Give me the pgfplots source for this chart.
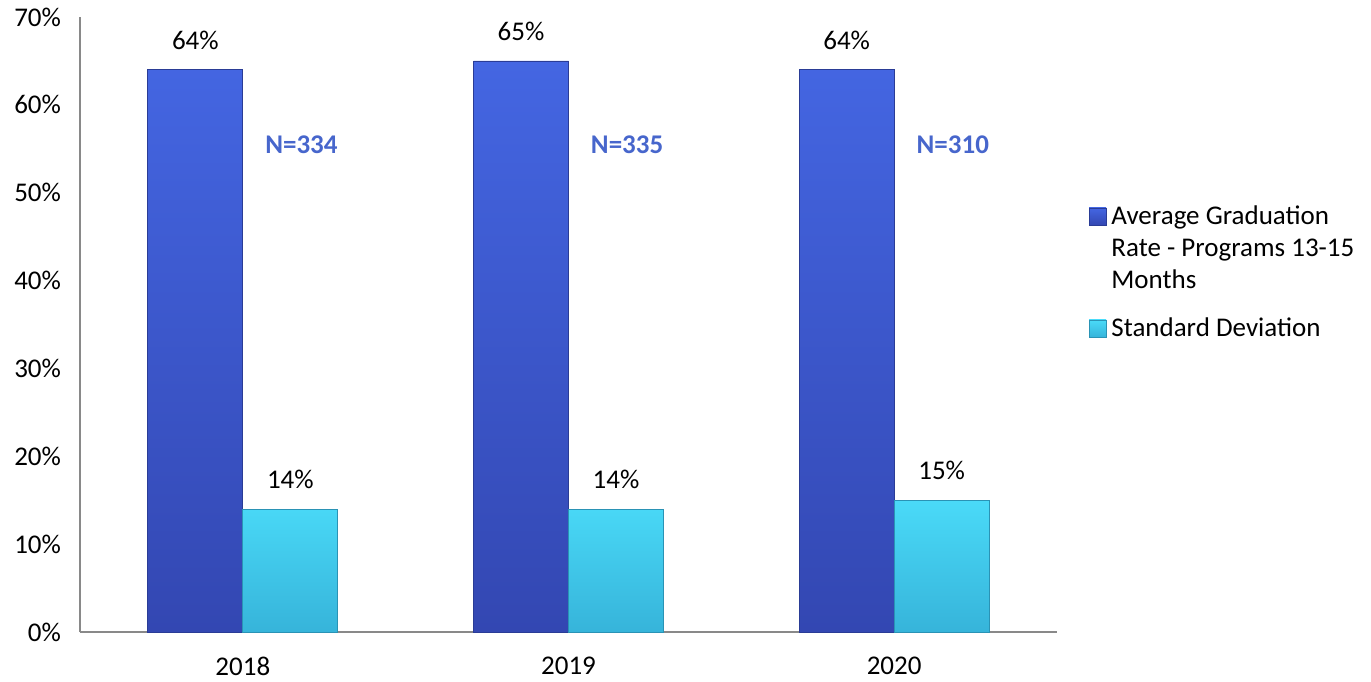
\documentclass[border=0pt]{standalone}
\usepackage{pgfplots}
\pgfplotsset{compat=1.18}
\usepackage{fontspec}
\setmainfont{Carlito}
\definecolor{bluetop}{HTML}{4466E2}
\definecolor{bluebot}{HTML}{3347B2}
\definecolor{blueedge}{HTML}{2A3C96}
\definecolor{cyantop}{HTML}{4ADAF8}
\definecolor{cyanbot}{HTML}{36B4DA}
\definecolor{cyanedge}{HTML}{2A93B5}
\definecolor{nblue}{HTML}{4766CC}
\definecolor{axgray}{HTML}{898989}
\begin{document}
\begin{tikzpicture}[font=\fontsize{13.5}{16}\selectfont]
\useasboundingbox (0,0) rectangle (685.5pt,340.5pt);
\begin{axis}[
  at={(40pt,24.5pt)}, anchor=south west,
  scale only axis,
  width=488.5pt, height=307.5pt,
  ybar=0pt, bar width=47.5pt,
  xmin=-0.5, xmax=2.5,
  ymin=0, ymax=70,
  xtick={0,1,2}, xticklabels={2018,2019,2020},
  ytick={0,10,20,30,40,50,60,70},
  yticklabels={0\%,10\%,20\%,30\%,40\%,50\%,60\%,70\%},
  major tick length=0pt,
  axis x line*=bottom, axis y line*=left,
  axis line style={axgray, line width=0.75pt},
  x axis line style={-}, y axis line style={-},
  yticklabel style={xshift=-6pt},
  xticklabel style={yshift=-9pt},
  /pgf/number format/assume math mode=true,
  nodes near coords={\pgfmathprintnumber{\pgfplotspointmeta}\%},
  every node near coord/.append style={inner sep=0pt, anchor=south, yshift=10pt, black},
  clip=false,
]
\addplot[top color=bluetop, bottom color=bluebot, draw=blueedge, line width=0.4pt]
  coordinates {(0,64) (1,65) (2,64)};
\addplot[top color=cyantop, bottom color=cyanbot, draw=cyanedge, line width=0.4pt]
  coordinates {(0,14) (1,14) (2,15)};
\node[text=nblue, font=\fontsize{13.5}{16}\selectfont\bfseries] at (axis cs:0.18,55.5) {N=334};
\node[text=nblue, font=\fontsize{13.5}{16}\selectfont\bfseries] at (axis cs:1.18,55.5) {N=335};
\node[text=nblue, font=\fontsize{13.5}{16}\selectfont\bfseries] at (axis cs:2.18,55.5) {N=310};
\end{axis}
% legend
\fill[top color=bluetop, bottom color=bluebot, draw=blueedge, line width=0.4pt] (544.5pt,228pt) rectangle (553pt,236.5pt);
\node[anchor=base west, inner sep=0pt] at (555.5pt,228pt) {Average Graduation};
\node[anchor=base west, inner sep=0pt] at (555.5pt,212pt) {Rate - Programs 13-15};
\node[anchor=base west, inner sep=0pt] at (555.5pt,196pt) {Months};
\fill[top color=cyantop, bottom color=cyanbot, draw=cyanedge, line width=0.4pt] (544.5pt,172pt) rectangle (553pt,180.5pt);
\node[anchor=base west, inner sep=0pt] at (555.5pt,172pt) {Standard Deviation};
\end{tikzpicture}
\end{document}
